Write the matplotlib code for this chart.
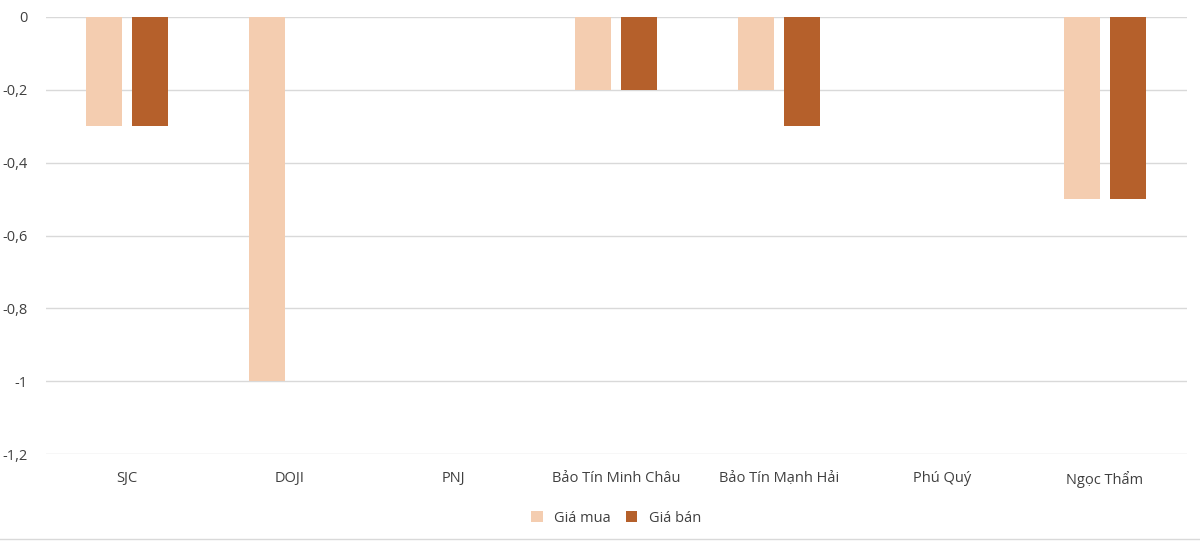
import matplotlib
matplotlib.use("Agg")
import matplotlib.pyplot as plt
import numpy as np

categories = ["SJC", "DOJI", "PNJ", "Bảo Tín Minh Châu", "Bảo Tín Mạnh Hải", "Phú Quý", "Ngọc Thẩm"]
gia_mua = [-0.3, -1.0, 0, -0.2, -0.2, 0, -0.5]
gia_ban = [-0.3, 0, 0, -0.2, -0.3, 0, -0.5]
yticks = [0, -0.2, -0.4, -0.6, -0.8, -1, -1.2]
ylabels = ["0", "-0,2", "-0,4", "-0,6", "-0,8", "-1", "-1,2"]

plt.rcParams['font.family'] = ['Open Sans', 'DejaVu Sans']
fig = plt.figure(figsize=(12, 5.41), dpi=100)
ax = fig.add_axes([45.5/1200, 1-454/541, 1141/1200, (454-17)/541])
x = np.arange(len(categories))
w = 0.22
ax.bar(x - 0.14, gia_mua, w, color="#F4CDB0", label="Giá mua", zorder=3)
ax.bar(x + 0.14, gia_ban, w, color="#B5602B", label="Giá bán", zorder=3)
ax.set_xlim(-0.5, len(x) - 0.5)
ax.set_ylim(-1.2, 0)
ax.set_yticks(yticks)
ax.set_yticklabels(ylabels, fontsize=10.5, color="#404040")
ax.set_xticks(x)
ax.set_xticklabels(categories, fontsize=10.5, color="#404040")
ax.tick_params(length=0, pad=12)
ax.tick_params(axis='y', pad=13)
ax.grid(axis='y', color="#D9D9D9", lw=1, zorder=0)
for s in ax.spines.values():
    s.set_visible(False)
ax.legend(loc="upper center", bbox_to_anchor=(0.5, -0.1), ncol=2, frameon=False,
          fontsize=10.5, handlelength=0.8, handleheight=0.8, columnspacing=1.0,
          labelcolor="#404040")
fig.add_artist(plt.Line2D([0, 1], [1-539/541]*2, color="#D9D9D9", lw=1))
fig.savefig("out.png", dpi=100)
